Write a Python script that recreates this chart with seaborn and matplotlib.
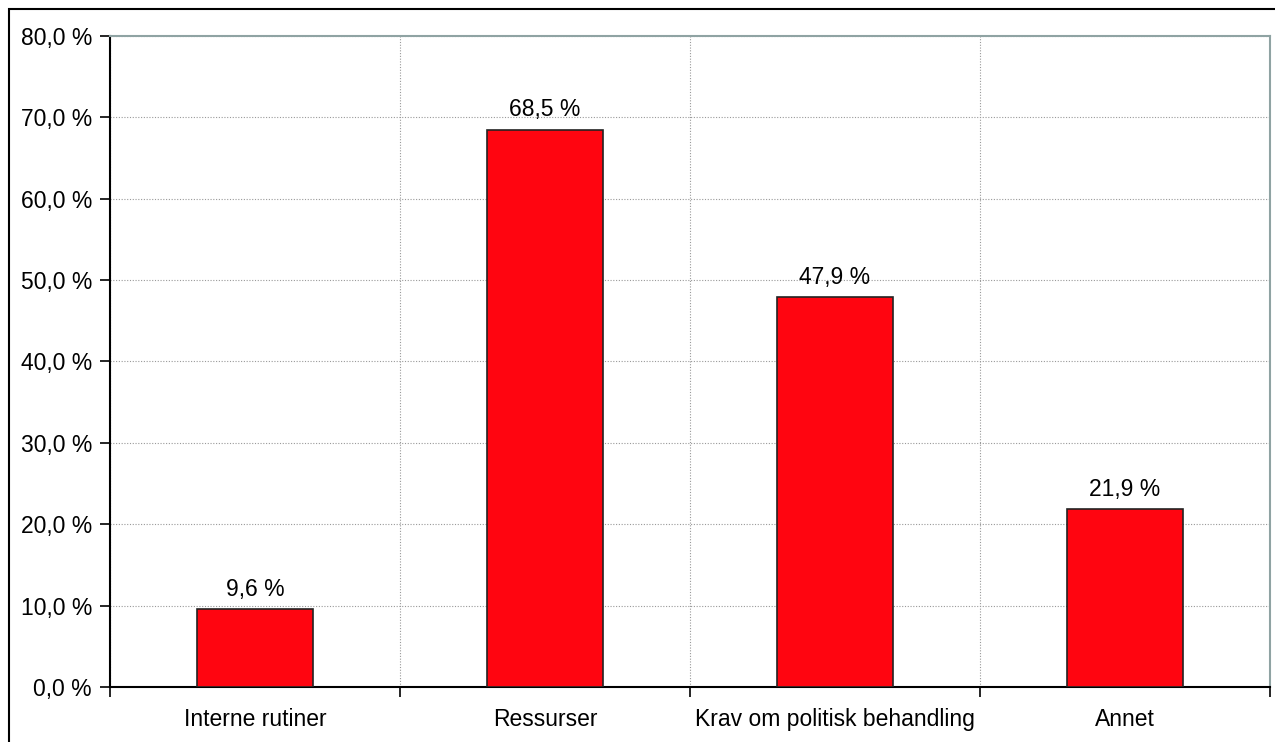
import seaborn as sns
import matplotlib.pyplot as plt
from matplotlib.patches import Rectangle
from matplotlib.ticker import FixedLocator, FuncFormatter
import pandas as pd

kategorier = ["Interne rutiner", "Ressurser", "Krav om politisk behandling", "Annet"]
andel = [9.6, 68.5, 47.9, 21.9]
y_ticks = [0, 10, 20, 30, 40, 50, 60, 70, 80]

df = pd.DataFrame({"kategori": kategorier, "andel": andel})

sns.set_style("white")
plt.rcParams['font.family'] = ['Liberation Sans', 'DejaVu Sans']
plt.rcParams['text.color'] = 'black'
plt.rcParams['xtick.labelcolor'] = 'black'
plt.rcParams['ytick.labelcolor'] = 'black'

fig = plt.figure(figsize=(12.75, 7.42), dpi=100)
ax = fig.add_axes([110 / 1275, 1 - 687 / 742, 1160 / 1275, 651 / 742])

sns.barplot(data=df, x="kategori", y="andel", color="#ff0510", saturation=1,
            width=0.4, edgecolor="#222222", linewidth=1.2, ax=ax, zorder=3)

# verdier over søylene
for i, v in enumerate(andel):
    ax.text(i, v + 1.0, f"{v:.1f} %".replace(".", ","), ha="center", va="bottom",
            fontsize=16.5, color="black")

ax.set_xlim(-0.5, len(kategorier) - 0.5)
ax.set_ylim(0, 80)
ax.set_yticks(y_ticks)
ax.yaxis.set_major_formatter(FuncFormatter(lambda v, p: f"{v:.1f} %".replace(".", ",")))
ax.set_xlabel("")
ax.set_ylabel("")

# rutenett: vannrett på hver 10 %, loddrett mellom kategoriene
ax.xaxis.set_minor_locator(FixedLocator([-0.5, 0.5, 1.5, 2.5, 3.5]))
ax.grid(axis="y", which="major", color="#999999", linestyle=(0, (1, 1.5)), linewidth=0.8, zorder=0)
ax.grid(axis="x", which="minor", color="#999999", linestyle=(0, (1, 1.5)), linewidth=0.8, zorder=0)
ax.grid(axis="x", which="major", visible=False)

ax.tick_params(axis="x", which="major", length=0, labelsize=16.5, pad=15)
ax.tick_params(axis="x", which="minor", length=7, width=1.2, color="black", direction="out", bottom=True)
ax.tick_params(axis="y", length=7, width=1.2, color="black", direction="out", labelsize=16.5,
               left=True, pad=6)

for s in ["left", "bottom"]:
    ax.spines[s].set_color("black")
    ax.spines[s].set_linewidth(1.5)
for s in ["top", "right"]:
    ax.spines[s].set_color("#8fa3a3")
    ax.spines[s].set_linewidth(1.5)

# ramme rundt hele figuren
fig.patches.append(Rectangle((9 / 1275, -0.05), 1.1, 1 - 9 / 742 + 0.05,
                             transform=fig.transFigure, fill=False,
                             edgecolor="black", linewidth=1.5))

fig.savefig("out.png", dpi=100)
